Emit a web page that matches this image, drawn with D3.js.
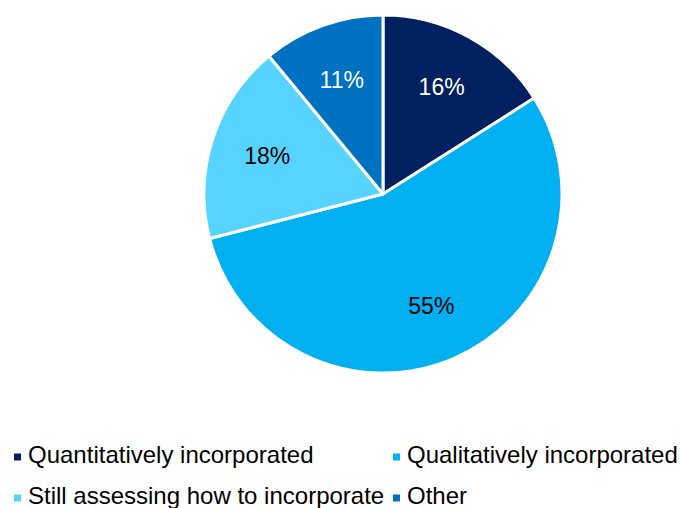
<!DOCTYPE html>
<html>
<head>
<meta charset="utf-8">
<script src="https://cdn.jsdelivr.net/npm/d3@7"></script>
<style>
  html, body { margin: 0; padding: 0; background: #fff; }
  svg { display: block; }
</style>
</head>
<body>
<svg id="chart" width="680" height="508"></svg>
<script>
// Survey shares, clockwise from 12 o'clock
const categories = ["Quantitatively incorporated", "Qualitatively incorporated", "Still assessing how to incorporate", "Other"];
const values = [16, 55, 18, 11];
const colors = ["#002060", "#00B0F0", "#57D3FF", "#0070C0"];
const labelColors = ["#ffffff", "#000000", "#000000", "#ffffff"];

const font = "'Liberation Sans', Arial, sans-serif";
const svg = d3.select("#chart");

const cx = 383, cy = 194, radius = 179;

const data = categories.map((c, i) => ({ category: c, value: values[i], color: colors[i], labelColor: labelColors[i] }));

const pie = d3.pie().value(d => d.value).sort(null);
const arc = d3.arc().innerRadius(0).outerRadius(radius);
const labelArc = d3.arc().innerRadius(radius * 0.68).outerRadius(radius * 0.68);

const g = svg.append("g").attr("transform", `translate(${cx},${cy})`);
const arcs = pie(data);

g.selectAll("path.slice")
  .data(arcs)
  .join("path")
  .attr("class", "slice")
  .attr("d", arc)
  .attr("fill", d => d.data.color)
  .attr("stroke", "#ffffff")
  .attr("stroke-width", 3)
  .attr("stroke-linejoin", "round");

g.selectAll("text.pct")
  .data(arcs)
  .join("text")
  .attr("class", "pct")
  .attr("transform", d => `translate(${labelArc.centroid(d)})`)
  .attr("text-anchor", "middle")
  .attr("dy", "0.35em")
  .attr("font-family", font)
  .attr("font-size", 23)
  .attr("fill", d => d.data.labelColor)
  .text(d => `${d.data.value}%`);

// Legend: two columns, two rows
const legendX = [14, 393];
const legendY = [463, 504];
const legend = svg.append("g");
const items = legend.selectAll("g.item")
  .data(data)
  .join("g")
  .attr("class", "item")
  .attr("transform", (d, i) => `translate(${legendX[i % 2]},${legendY[Math.floor(i / 2)]})`);

items.append("rect")
  .attr("x", 0)
  .attr("y", -9.5)
  .attr("width", 7)
  .attr("height", 7)
  .attr("fill", d => d.color);

items.append("text")
  .attr("x", 14)
  .attr("y", 0)
  .attr("font-family", font)
  .attr("font-size", 24)
  .attr("fill", "#000")
  .text(d => d.category);
</script>
</body>
</html>
